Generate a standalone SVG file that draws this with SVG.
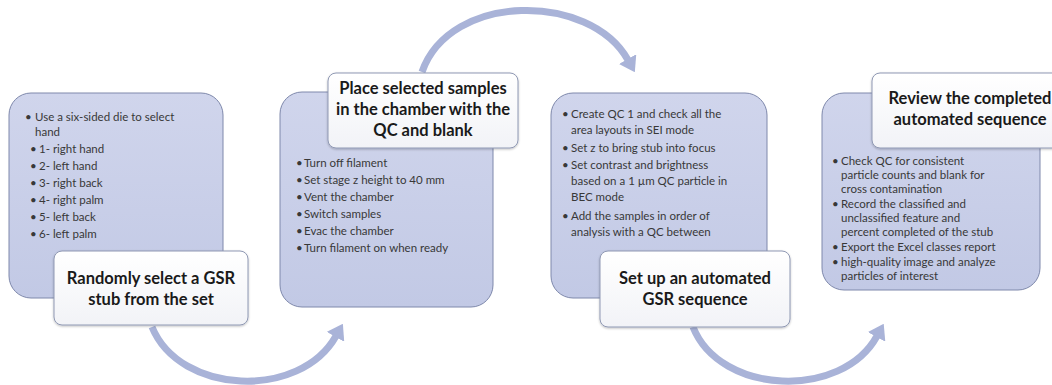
<svg xmlns="http://www.w3.org/2000/svg" width="1052" height="385" viewBox="0 0 1052 385">
<defs>
<linearGradient id="gBox" x1="0" y1="0" x2="0" y2="1">
<stop offset="0" stop-color="#d0d5ec"/>
<stop offset="1" stop-color="#c2c9e5"/>
</linearGradient>
<linearGradient id="gLab" x1="0" y1="0" x2="0" y2="1">
<stop offset="0" stop-color="#ffffff"/>
<stop offset="1" stop-color="#f2f3f7"/>
</linearGradient>
<marker id="ah" viewBox="0 0 15 20" refX="1" refY="10" markerWidth="15" markerHeight="20" markerUnits="userSpaceOnUse" orient="auto">
<path d="M0,0 L15,10 L0,20 z" fill="#a9b3d8"/>
</marker>
<filter id="sh" x="-5%" y="-5%" width="110%" height="115%">
<feDropShadow dx="0" dy="1" stdDeviation="1" flood-color="#000" flood-opacity="0.25"/>
</filter>
</defs>
<style>
.box{fill:url(#gBox);stroke:#7e88ab;stroke-width:1}
.lab{fill:url(#gLab);stroke:#8f98b3;stroke-width:1;filter:url(#sh)}
.t{font-family:Lato,"Liberation Sans",sans-serif;font-size:11.5px;fill:#383838}
.h{font-family:Lato,"Liberation Sans",sans-serif;font-size:16.5px;font-weight:bold;fill:#1a1a1a;text-anchor:middle}
.arr{fill:none;stroke:#a9b3d8;stroke-width:7;marker-end:url(#ah)}
</style>
<rect width="1052" height="385" fill="#ffffff"/>
<g id="connectors">
<path class="arr" d="M152,327 C180,395 300,400 336,336"/>
<path class="arr" d="M422,72 C450,-8 590,-8 628,60"/>
<path class="arr" d="M693,327 C720,395 842,400 877,336"/>
</g>
<g id="node1">
<rect class="box" x="9" y="93" width="214" height="205" rx="22"/>
<text class="t" x="25" y="121">•</text><text class="t" x="35" y="121">Use a six-sided die to select</text>
<text class="t" x="35" y="136">hand</text>
<text class="t" x="30" y="153">•</text><text class="t" x="39" y="153">1- right hand</text>
<text class="t" x="30" y="170">•</text><text class="t" x="39" y="170">2- left hand</text>
<text class="t" x="30" y="187">•</text><text class="t" x="39" y="187">3- right back</text>
<text class="t" x="30" y="204">•</text><text class="t" x="39" y="204">4- right palm</text>
<text class="t" x="30" y="221">•</text><text class="t" x="39" y="221">5- left back</text>
<text class="t" x="30" y="238">•</text><text class="t" x="39" y="238">6- left palm</text>
<rect class="lab" x="54" y="251" width="194" height="74" rx="8"/>
<text class="h" x="151" y="284">Randomly select a GSR</text>
<text class="h" x="151" y="305">stub from the set</text>
</g>
<g id="node2">
<rect class="box" x="280" y="92" width="213" height="215" rx="22"/>
<rect class="lab" x="328" y="73" width="190" height="75" rx="8"/>
<text class="h" x="423" y="94">Place selected samples</text>
<text class="h" x="423" y="115">in the chamber with the</text>
<text class="h" x="423" y="136">QC and blank</text>
<text class="t" x="296" y="167">•</text><text class="t" x="304" y="167">Turn off filament</text>
<text class="t" x="296" y="184">•</text><text class="t" x="304" y="184">Set stage z height to 40 mm</text>
<text class="t" x="296" y="201">•</text><text class="t" x="304" y="201">Vent the chamber</text>
<text class="t" x="296" y="218">•</text><text class="t" x="304" y="218">Switch samples</text>
<text class="t" x="296" y="235">•</text><text class="t" x="304" y="235">Evac the chamber</text>
<text class="t" x="296" y="252">•</text><text class="t" x="304" y="252">Turn filament on when ready</text>
</g>
<g id="node3">
<rect class="box" x="551" y="93" width="216" height="205" rx="22"/>
<text class="t" x="562" y="118">•</text><text class="t" x="571" y="118">Create QC 1 and check all the</text>
<text class="t" x="571" y="134">area layouts in SEI mode</text>
<text class="t" x="562" y="152">•</text><text class="t" x="571" y="152">Set z to bring stub into focus</text>
<text class="t" x="562" y="169">•</text><text class="t" x="571" y="169">Set contrast and brightness</text>
<text class="t" x="571" y="185">based on a 1 µm QC particle in</text>
<text class="t" x="571" y="201">BEC mode</text>
<text class="t" x="562" y="220">•</text><text class="t" x="571" y="220">Add the samples in order of</text>
<text class="t" x="571" y="236">analysis with a QC between</text>
<rect class="lab" x="600" y="251" width="190" height="76" rx="8"/>
<text class="h" x="695" y="284">Set up an automated</text>
<text class="h" x="695" y="305">GSR sequence</text>
</g>
<g id="node4">
<rect class="box" x="822" y="93" width="218" height="197" rx="22"/>
<rect class="lab" x="872" y="73" width="196" height="75" rx="8"/>
<text class="h" x="970" y="104">Review the completed</text>
<text class="h" x="970" y="125">automated sequence</text>
<text class="t" x="832" y="165">•</text><text class="t" x="841" y="165">Check QC for consistent</text>
<text class="t" x="841" y="179">particle counts and blank for</text>
<text class="t" x="841" y="193">cross contamination</text>
<text class="t" x="832" y="208">•</text><text class="t" x="841" y="208">Record the classified and</text>
<text class="t" x="841" y="222">unclassified feature and</text>
<text class="t" x="841" y="236">percent completed of the stub</text>
<text class="t" x="832" y="251">•</text><text class="t" x="841" y="251">Export the Excel classes report</text>
<text class="t" x="832" y="266">•</text><text class="t" x="841" y="266">high-quality image and analyze</text>
<text class="t" x="841" y="280">particles of interest</text>
</g>
</svg>
